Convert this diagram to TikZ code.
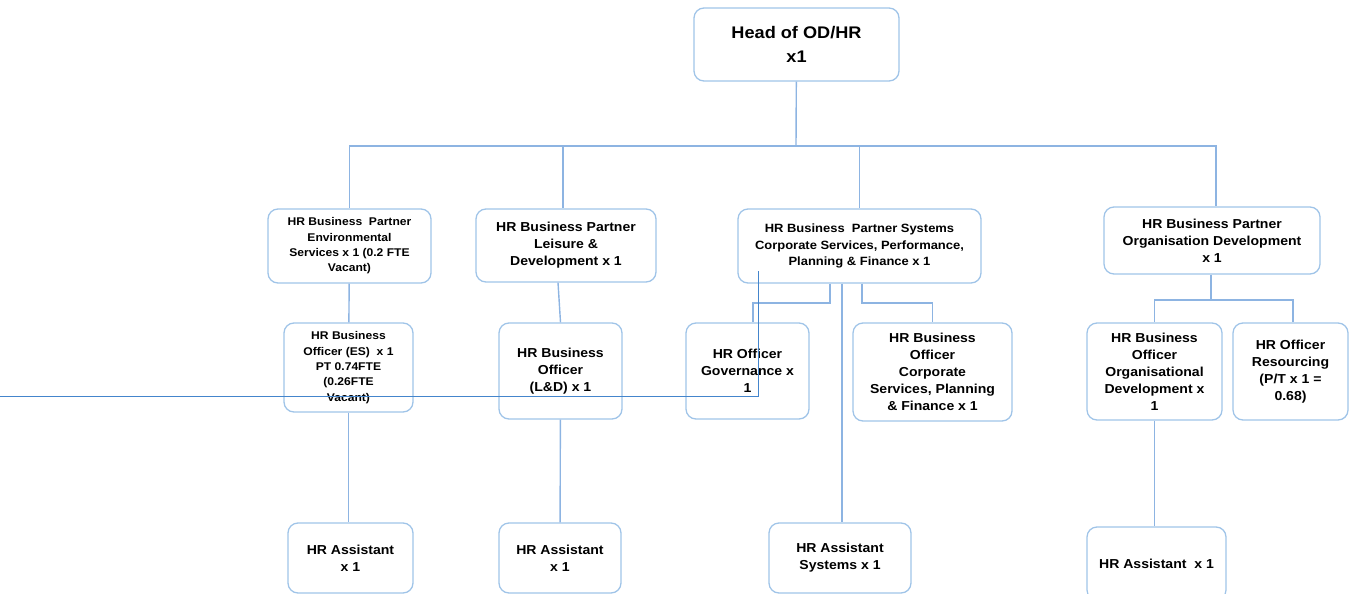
\documentclass[tikz,border=0pt]{standalone}
\usepackage{fontspec}
\setmainfont{Liberation Sans}[FakeStretch=1.08]
\usetikzlibrary{positioning}
\definecolor{boxblue}{RGB}{160,196,232}
\definecolor{lineblue}{RGB}{141,180,226}
\definecolor{strayblue}{RGB}{68,133,204}
\begin{document}
\begin{tikzpicture}[x=1pt,y=-1pt,
  box/.style={draw=boxblue,line width=1.3pt,rounded corners=10pt,align=center,inner sep=2pt},
  conn/.style={draw=lineblue,line width=1.4pt},
  big/.style={font=\fontsize{16.8}{24}\selectfont\bfseries},
  mid/.style={font=\fontsize{13}{17}\selectfont\bfseries},
  small/.style={font=\fontsize{11.2}{15.3}\selectfont\bfseries},
  wide/.style={font=\fontsize{12}{16.5}\selectfont\bfseries}]
\useasboundingbox (0,0) rectangle (1349,594);

% top
\node[box,big,minimum width=205pt,minimum height=73pt](head) at (796.5,44.5) {Head of OD/HR\\x1};

% partners
\node[box,small,minimum width=163pt,minimum height=74pt](bpes) at (349.5,246) {HR Business\ \ Partner\\Environmental\\Services x 1 (0.2 FTE\\Vacant)};
\node[box,mid,minimum width=180pt,minimum height=73pt](bpld) at (566,245.5) {HR Business Partner\\Leisure \&\\Development x 1};
\node[box,wide,minimum width=243pt,minimum height=74pt](bpsys) at (859.5,246) {HR Business\ \ Partner Systems\\Corporate Services, Performance,\\Planning \& Finance x 1};
\node[box,mid,minimum width=216pt,minimum height=67pt](bpod) at (1212,240.5) {HR Business Partner\\Organisation Development\\x 1};

% officers
\node[box,small,minimum width=129pt,minimum height=89pt](boes) at (348.5,367.5) {HR Business\\Officer (ES)\ \ x 1\\PT 0.74FTE\\(0.26FTE\\Vacant)};
\node[box,mid,minimum width=123pt,minimum height=96pt](bold) at (560.5,371) {HR Business\\Officer\\(L\&D) x 1};
\node[box,mid,minimum width=123pt,minimum height=96pt](ogov) at (747.5,371) {HR Officer\\Governance x\\1};
\node[box,mid,minimum width=159pt,minimum height=98pt](bocs) at (932.5,372) {HR Business\\Officer\\Corporate\\Services, Planning\\\& Finance x 1};
\node[box,mid,minimum width=135pt,minimum height=97pt](boorg) at (1154.5,371.5) {HR Business\\Officer\\Organisational\\Development x\\1};
\node[box,mid,minimum width=115pt,minimum height=97pt](ores) at (1290.5,371.5) {HR Officer\\Resourcing\\(P/T x 1 =\\0.68)};

% assistants
\node[box,mid,minimum width=125pt,minimum height=70pt](as1) at (350.5,558) {HR Assistant\\x 1};
\node[box,mid,minimum width=122pt,minimum height=70pt](as2) at (560,558) {HR Assistant\\x 1};
\node[box,mid,minimum width=142pt,minimum height=70pt](as3) at (840,558) {HR Assistant\\Systems x 1};
\node[box,mid,minimum width=139pt,minimum height=73pt](as4) at (1156.5,563.5) {HR Assistant\ \ x 1};

% head to partners
\coordinate (bar) at (796,146);
\draw[conn] (head) -- (bar);
\draw[conn] (bar) -| (bpes);
\draw[conn] (bar) -| (bpld.north -| 563,0);
\draw[conn] (bar) -| (bpsys);
\draw[conn] (bar) -| (bpod.north -| 1216,0);

% partners to officers
\draw[conn] (bpes) -- (boes);
\draw[conn] (boes) -- (as1.north -| boes.south);
\draw[conn] (bpld.south -| 558,0) -- (bold.north);
\draw[conn] (bold) -- (as2);

\coordinate (sysa) at (830,303);
\coordinate (sysb) at (862,303);
\draw[conn] (bpsys.south -| sysa) -- (sysa) -| (ogov.north -| 753,0);
\draw[conn] (bpsys.south -| 842,0) -- (as3.north -| 842,0);
\draw[conn] (bpsys.south -| sysb) -- (sysb) -| (bocs);

\coordinate (odbar) at (1211,300);
\draw[conn] (bpod.south -| odbar) -- (odbar);
\draw[conn] (odbar) -| (boorg);
\draw[conn] (odbar) -| (ores.north -| 1293,0);
\draw[conn] (boorg) -- (as4.north -| boorg.south);

% stray line
\coordinate (stray) at (758,271);
\coordinate (strayend) at (0,396);
\draw[strayblue,line width=1pt] (stray) |- (strayend);
\end{tikzpicture}
\end{document}
